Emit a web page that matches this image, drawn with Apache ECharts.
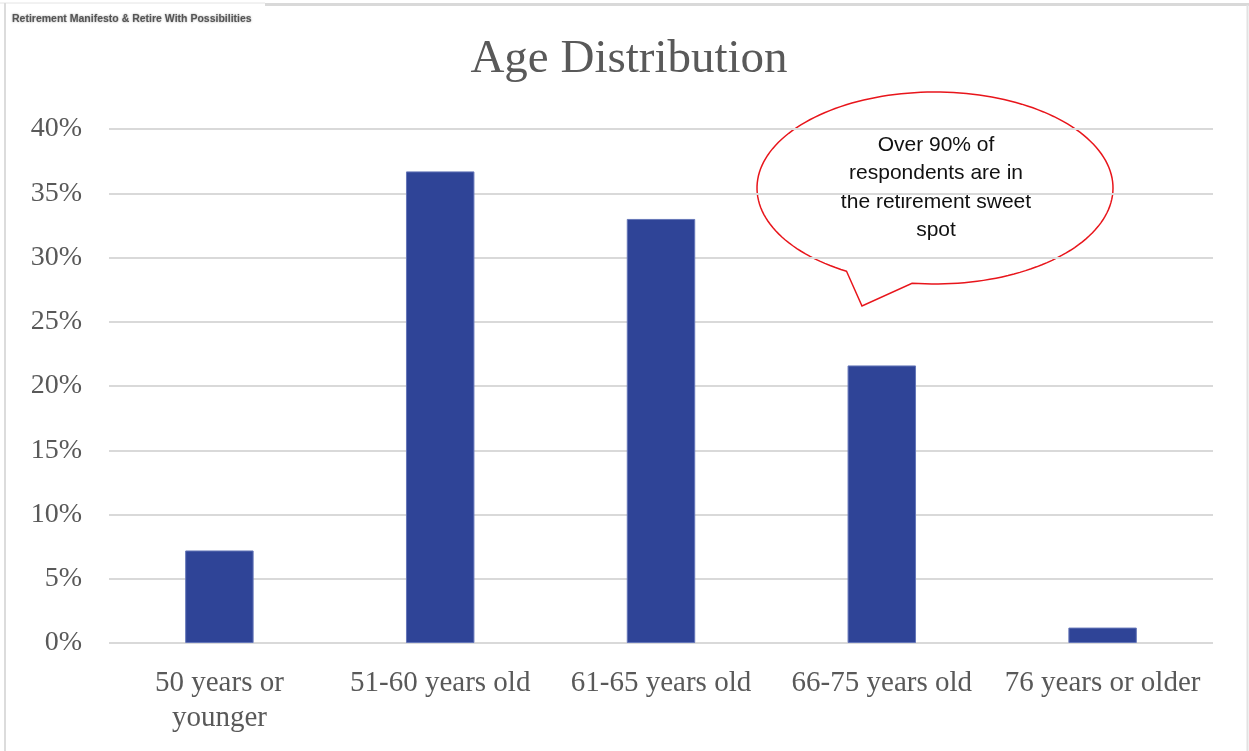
<!DOCTYPE html>
<html>
<head>
<meta charset="utf-8">
<title>Age Distribution</title>
<script src="https://cdn.jsdelivr.net/npm/echarts@6/dist/echarts.min.js"></script>
<style>
  html, body { margin: 0; padding: 0; background: #ffffff; }
  #chart { width: 1249px; height: 751px; }
</style>
</head>
<body>
<div id="chart"></div>
<script>
// Survey respondents by age group (share of respondents, %)
const ageGroups = ['50 years or\nyounger', '51-60 years old', '61-65 years old', '66-75 years old', '76 years or older'];
const shareValues = [7.2, 36.7, 33.0, 21.6, 1.2];
const yTicks = { min: 0, max: 40, step: 5 };

const chartTitle = 'Age Distribution';
const sourceNote = 'Retirement Manifesto & Retire With Possibilities';
const calloutText = 'Over 90% of\nrespondents are in\nthe retirement sweet\nspot';

const serif = '"Liberation Serif", "Times New Roman", serif';
const sans = '"Liberation Sans", Arial, sans-serif';
const grey = '#595959';

// Speech-bubble outline: an ellipse with a pointed tail at its lower left
function bubblePoints(cx, cy, rx, ry, tStart, tEnd, tip) {
  const pts = [];
  const n = 160;
  for (let i = 0; i <= n; i++) {
    const t = (tStart + (tEnd - tStart) * i / n) * Math.PI / 180;
    pts.push([cx + rx * Math.cos(t), cy + ry * Math.sin(t)]);
  }
  pts.push(tip);
  return pts;
}

const chart = echarts.init(document.getElementById('chart'), null, { renderer: 'canvas' });

chart.setOption({
  backgroundColor: '#ffffff',
  animation: false,
  grid: { left: 109, right: 36, top: 129, bottom: 108, containLabel: false },
  xAxis: {
    type: 'category',
    data: ageGroups,
    axisLine: { show: false },
    axisTick: { show: false },
    axisLabel: {
      interval: 0,
      color: grey,
      fontFamily: serif,
      fontSize: 29,
      lineHeight: 35,
      margin: 23
    }
  },
  yAxis: {
    type: 'value',
    min: yTicks.min,
    max: yTicks.max,
    interval: yTicks.step,
    axisLine: { show: false },
    axisTick: { show: false },
    splitLine: { lineStyle: { color: '#d9d9d9', width: 2 } },
    axisLabel: {
      formatter: '{value}%',
      color: grey,
      fontFamily: serif,
      fontSize: 28,
      margin: 27
    }
  },
  series: [{
    type: 'bar',
    data: shareValues,
    barWidth: '31%',
    itemStyle: { color: '#2f4497', borderColor: '#6576b8', borderWidth: 1 }
  }],
  graphic: [
    // page frame
    { type: 'line', shape: { x1: 0, y1: 3, x2: 265, y2: 3 }, style: { stroke: '#e4e4e4', lineWidth: 1 }, silent: true },
    { type: 'line', shape: { x1: 265, y1: 4.5, x2: 1249, y2: 4.5 }, style: { stroke: '#d9d9d9', lineWidth: 3 }, silent: true },
    { type: 'line', shape: { x1: 5, y1: 3, x2: 5, y2: 751 }, style: { stroke: '#dcdcdc', lineWidth: 2 }, silent: true },
    { type: 'line', shape: { x1: 1247.5, y1: 5, x2: 1247.5, y2: 751 }, style: { stroke: '#e2e2e2', lineWidth: 2 }, silent: true },
    // source note
    {
      type: 'text', left: 12, top: 14, silent: true,
      style: {
        text: sourceNote, fill: '#555555', font: 'bold 10.5px ' + sans,
        textShadowColor: 'rgba(110,110,110,0.7)', textShadowBlur: 2
      }
    },
    // title
    {
      type: 'text', x: 629, y: 60, silent: true,
      style: {
        text: chartTitle, fill: grey, font: '47px ' + serif,
        align: 'center', verticalAlign: 'middle'
      }
    },
    // callout bubble
    {
      type: 'polygon', silent: true,
      shape: { points: bubblePoints(935, 188, 178, 96, 119.8, 457.4, [862, 306]) },
      style: { fill: 'none', stroke: '#e8151b', lineWidth: 1.5 }
    },
    {
      type: 'text', x: 936, y: 187.5, silent: true,
      style: {
        text: calloutText, fill: '#111111', font: '21px ' + sans,
        lineHeight: 28.5, align: 'center', verticalAlign: 'middle'
      }
    }
  ]
});
</script>
</body>
</html>
